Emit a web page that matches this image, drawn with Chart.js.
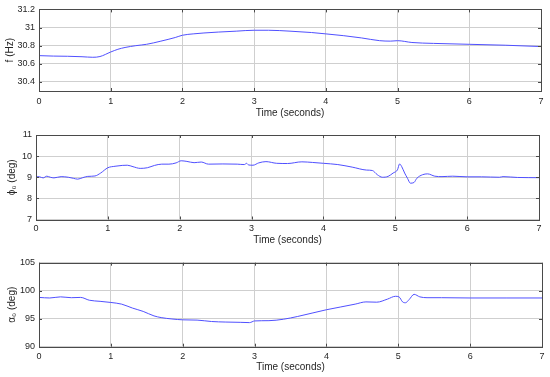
<!DOCTYPE html>
<html>
<head>
<meta charset="utf-8">
<script src="https://cdn.jsdelivr.net/npm/chart.js@4.4.1/dist/chart.umd.min.js"></script>
<style>
html, body { margin: 0; padding: 0; background: #fff; }
#wrap { position: relative; width: 550px; height: 377px; }
canvas { position: absolute; left: 0; }
</style>
</head>
<body>
<div id="wrap">
  <canvas id="cF" width="550" height="125" style="top:0"></canvas>
  <canvas id="cPhi" width="550" height="125" style="top:125px"></canvas>
  <canvas id="cAlpha" width="550" height="127" style="top:250px"></canvas>
</div>
<script>
// time axis
const xTicks = [0, 1, 2, 3, 4, 5, 6, 7];

// frequency f (Hz)
const tF = [0, 0.2, 0.4, 0.6, 0.75, 0.85, 1.0, 1.1, 1.2, 1.35, 1.5, 1.7, 1.9, 2.0, 2.15, 2.3, 2.5, 2.75, 3.0, 3.2, 3.5, 3.8, 4.0, 4.25, 4.5, 4.75, 4.9, 5.0, 5.2, 5.5, 6.0, 6.5, 7.0];
const fHz = [30.69, 30.685, 30.683, 30.678, 30.672, 30.68, 30.73, 30.76, 30.78, 30.80, 30.815, 30.85, 30.89, 30.915, 30.93, 30.94, 30.95, 30.96, 30.97, 30.97, 30.96, 30.945, 30.93, 30.91, 30.885, 30.855, 30.85, 30.855, 30.835, 30.825, 30.815, 30.805, 30.79];
const fTicks = [30.4, 30.6, 30.8, 31, 31.2];

// phi_0 (deg)
const tPhi = [0, 0.05, 0.1, 0.15, 0.2, 0.25, 0.35, 0.45, 0.52, 0.58, 0.65, 0.72, 0.82, 0.9, 1.0, 1.1, 1.2, 1.27, 1.35, 1.45, 1.55, 1.65, 1.75, 1.85, 1.95, 2.02, 2.1, 2.2, 2.3, 2.4, 2.6, 2.8, 2.9, 2.93, 2.96, 3.02, 3.1, 3.2, 3.35, 3.5, 3.7, 3.85, 4.0, 4.2, 4.4, 4.6, 4.68, 4.75, 4.82, 4.9, 4.97, 5.03, 5.06, 5.09, 5.13, 5.17, 5.21, 5.26, 5.3, 5.38, 5.45, 5.55, 5.65, 5.8, 6.0, 6.2, 6.45, 6.5, 6.7, 7.0];
const phi0 = [9.03, 9.02, 8.97, 9.05, 9.0, 8.97, 9.03, 9.0, 8.95, 8.91, 8.98, 9.04, 9.06, 9.2, 9.45, 9.52, 9.56, 9.57, 9.5, 9.42, 9.45, 9.56, 9.62, 9.62, 9.68, 9.78, 9.75, 9.69, 9.72, 9.62, 9.63, 9.62, 9.6, 9.66, 9.58, 9.57, 9.68, 9.74, 9.66, 9.65, 9.73, 9.7, 9.66, 9.6, 9.48, 9.34, 9.32, 9.12, 9.0, 9.04, 9.2, 9.35, 9.63, 9.5, 9.2, 8.95, 8.72, 8.75, 8.95, 9.12, 9.16, 9.05, 9.03, 9.05, 9.02, 9.02, 9.0, 9.03, 8.99, 8.98];
const phiTicks = [7, 8, 9, 10, 11];

// alpha_0 (deg)
const tAlpha = [0, 0.15, 0.3, 0.45, 0.58, 0.7, 0.85, 1.0, 1.15, 1.3, 1.45, 1.6, 1.7, 1.85, 2.0, 2.2, 2.4, 2.6, 2.8, 2.93, 3.0, 3.2, 3.4, 3.6, 3.8, 4.0, 4.2, 4.4, 4.55, 4.7, 4.85, 4.96, 5.01, 5.06, 5.1, 5.15, 5.22, 5.3, 5.4, 5.6, 6.0, 6.5, 7.0];
const alpha0 = [98.8, 98.7, 98.9, 98.75, 98.8, 98.3, 98.1, 97.9, 97.6, 96.9, 96.3, 95.5, 95.2, 94.95, 94.8, 94.75, 94.5, 94.4, 94.35, 94.3, 94.6, 94.65, 94.9, 95.4, 96.0, 96.6, 97.1, 97.6, 98.0, 97.95, 98.5, 99.0, 98.9, 98.0, 97.85, 98.4, 99.35, 98.9, 98.75, 98.75, 98.7, 98.7, 98.7];
const alphaTicks = [90, 95, 100, 105];

const LINE = 'rgb(80,80,255)';
const GRID = '#cfcfcf';
const FRAME = '#4a4a4a';
const TXT = '#262626';
const FAM = '"Liberation Sans", Arial, Helvetica, sans-serif';

const framePlugin = {
  id: 'frame',
  afterDraw(chart) {
    const { ctx, chartArea: a, scales } = chart;
    ctx.save();
    ctx.strokeStyle = FRAME;
    ctx.lineWidth = 1;
    ctx.beginPath();
    scales.x.ticks.forEach(t => {
      const p = Math.round(scales.x.getPixelForValue(t.value)) + 0.5;
      ctx.moveTo(p, a.bottom); ctx.lineTo(p, a.bottom - 3);
      ctx.moveTo(p, a.top); ctx.lineTo(p, a.top + 3);
    });
    scales.y.ticks.forEach(t => {
      const p = Math.round(scales.y.getPixelForValue(t.value)) + 0.5;
      ctx.moveTo(a.left, p); ctx.lineTo(a.left + 3, p);
      ctx.moveTo(a.right, p); ctx.lineTo(a.right - 3, p);
    });
    ctx.stroke();
    ctx.strokeRect(Math.round(a.left) + 0.5, Math.round(a.top) + 0.5,
      Math.round(a.right - a.left), Math.round(a.bottom - a.top));
    ctx.restore();
  }
};

const fmt = v => String(Math.round(v * 100) / 100);

function makeChart(id, times, values, yTicks, yMin, yMax, yLabel, g) {
  const ctx = document.getElementById(id).getContext('2d');
  const h = ctx.canvas.height;
  return new Chart(ctx, {
    type: 'line',
    data: {
      datasets: [{
        data: times.map((t, i) => ({ x: t, y: values[i] })),
        borderColor: LINE,
        borderWidth: 1,
        pointRadius: 0,
        fill: false,
        cubicInterpolationMode: 'monotone'
      }]
    },
    options: {
      responsive: false,
      animation: false,
      events: [],
      layout: { padding: { top: g.top, right: 550 - g.right, left: 0, bottom: 0 } },
      plugins: { legend: { display: false }, tooltip: { enabled: false } },
      scales: {
        x: {
          type: 'linear', min: 0, max: 7,
          afterBuildTicks: s => { s.ticks = xTicks.map(v => ({ value: v })); },
          afterFit: s => { s.height = h - g.bottom; },
          grid: { color: GRID, drawTicks: false },
          border: { display: false },
          ticks: { color: TXT, font: { family: FAM, size: 9 }, padding: g.tickPad, maxRotation: 0, callback: fmt },
          title: { display: true, text: 'Time (seconds)', color: TXT, font: { family: FAM, size: 10 }, padding: { top: 0, bottom: g.titlePad } }
        },
        y: {
          min: yMin, max: yMax,
          afterBuildTicks: s => { s.ticks = yTicks.map(v => ({ value: v })); },
          afterFit: s => { s.width = g.left; },
          grid: { color: GRID, drawTicks: false },
          border: { display: false },
          ticks: { color: TXT, font: { family: FAM, size: 9 }, padding: 4, callback: fmt },
          title: { display: true, text: yLabel, color: TXT, font: { family: FAM, size: 10 }, padding: { top: g.yTitlePad, bottom: 0 } }
        }
      }
    },
    plugins: [framePlugin]
  });
}

makeChart('cF', tF, fHz, fTicks, 30.3, 31.2, 'f (Hz)',
  { top: 8, bottom: 91, left: 39, right: 541, tickPad: 5, titlePad: 6, yTitlePad: 4 });
makeChart('cPhi', tPhi, phi0, phiTicks, 7, 11, 'ϕ₀ (deg)',
  { top: 10, bottom: 94.5, left: 36, right: 539, tickPad: 4, titlePad: 4, yTitlePad: 6 });
makeChart('cAlpha', tAlpha, alpha0, alphaTicks, 90, 105, 'α₀ (deg)',
  { top: 12.7, bottom: 96.7, left: 39, right: 542, tickPad: 4, titlePad: 4, yTitlePad: 6 });
</script>
</body>
</html>
